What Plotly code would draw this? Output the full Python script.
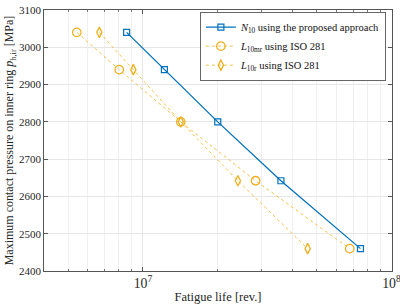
import plotly.graph_objects as go

pressure = [3040, 2940, 2800, 2642, 2460]
n10_life = [8.6e6, 1.22e7, 2.0e7, 3.59e7, 7.5e7]
l10mr_life = [5.42e6, 8.03e6, 1.42e7, 2.84e7, 6.79e7]
l10r_life = [6.68e6, 9.15e6, 1.42e7, 2.41e7, 4.6e7]

names = ["<i>N</i><sub>10</sub> using the proposed approach",
         "<i>L</i><sub>10mr</sub> using ISO 281",
         "<i>L</i><sub>10r</sub> using ISO 281"]
y_ticks = [2400, 2500, 2600, 2700, 2800, 2900, 3000, 3100]

BLUE = "#0072BD"
ORANGE = "#EDB120"
FONT = "Liberation Serif"

fig = go.Figure()
fig.add_trace(go.Scatter(x=n10_life, y=pressure, mode="lines+markers", name=names[0],
                         line=dict(color=BLUE, width=1.3),
                         marker=dict(symbol="square-open", size=6, color=BLUE, line=dict(width=1.2))))
fig.add_trace(go.Scatter(x=l10mr_life, y=pressure, mode="lines+markers", name=names[1],
                         line=dict(color=ORANGE, width=0.8, dash="dot"),
                         marker=dict(symbol="circle-open", size=8.5, color=ORANGE, line=dict(width=1.3))))
fig.add_trace(go.Scatter(x=l10r_life, y=pressure, mode="lines+markers", name=names[2],
                         line=dict(color=ORANGE, width=0.8, dash="dot"),
                         marker=dict(symbol="diamond-tall-open", size=7.5, color=ORANGE, line=dict(width=1.3))))

fig.update_layout(
    width=400, height=305,
    margin=dict(l=44, r=8, t=10, b=34),
    paper_bgcolor="white", plot_bgcolor="white",
    font=dict(family=FONT, size=11, color="#262626"),
    showlegend=True,
    legend=dict(x=0.983, y=0.993, xanchor="right", yanchor="top",
                bgcolor="white", bordercolor="#404040", borderwidth=0.8,
                font=dict(family=FONT, size=10.5, color="#111"),
                tracegroupgap=0, itemwidth=30,
                ),
)
fig.update_xaxes(type="log", range=[6.602, 8.002], dtick=1, exponentformat="power",
                 automargin=False, ticklabeloverflow="allow",
                 showline=True, linecolor="#555", linewidth=0.8, mirror="ticks",
                 ticks="inside", ticklen=4, tickcolor="#555",
                 showgrid=True, gridcolor="#e6e6e6", gridwidth=0.6,
                 minor=dict(ticks="inside", ticklen=2.5, tickcolor="#777", showgrid=True,
                            gridcolor="#f0f0f0", gridwidth=0.5),
                 zeroline=False,
                 title=dict(text="Fatigue life [rev.]", font=dict(family=FONT, size=12.5, color="#262626"), standoff=2),
                 tickfont=dict(family=FONT, size=11))
fig.update_yaxes(range=[2400, 3100], tickvals=y_ticks,
                 automargin=False,
                 showline=True, linecolor="#555", linewidth=0.8, mirror="ticks",
                 ticks="inside", ticklen=4, tickcolor="#555",
                 showgrid=True, gridcolor="#e6e6e6", gridwidth=0.6,
                 zeroline=False,
                 title=dict(text="Maximum contact pressure on inner ring <i>p</i><sub>h,ir</sub> [MPa]",
                            font=dict(family=FONT, size=12, color="#262626"), standoff=2),
                 tickfont=dict(family=FONT, size=11))

fig.write_html("out.html", config={"displayModeBar": False},
               post_script="document.body.style.margin='0';document.body.style.overflow='hidden';")
